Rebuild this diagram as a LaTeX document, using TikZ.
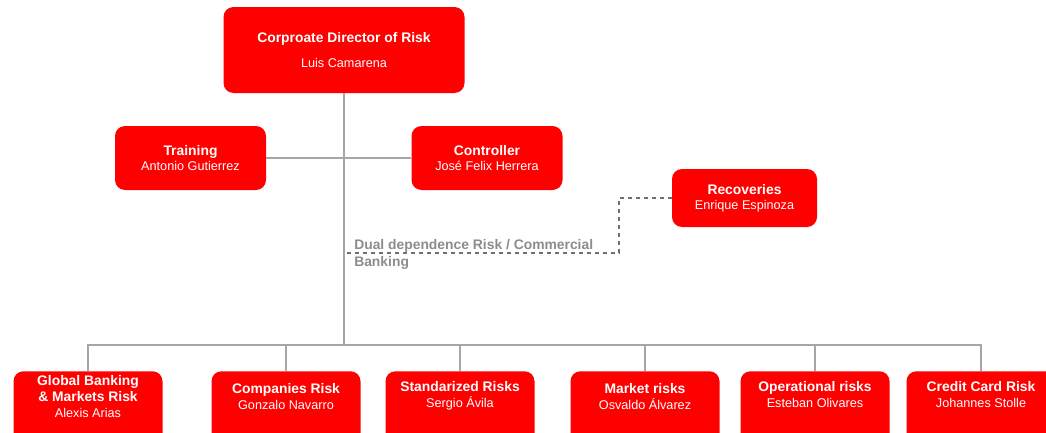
\documentclass[tikz,border=0pt]{standalone}
\usepackage{fontspec}
\setmainfont{Liberation Sans}
\definecolor{boxred}{HTML}{FF0000}
\definecolor{linegray}{HTML}{A6A6A6}
\definecolor{dashgray}{HTML}{707070}
\definecolor{labelgray}{HTML}{8C8C8C}
\newcommand{\ttl}[1]{{\fontsize{10.4}{11.3}\selectfont\bfseries #1}}
\newcommand{\nm}[1]{{\fontsize{9.5}{11.3}\selectfont #1}}
\tikzset{
  redbox/.style={fill=boxred, draw=none, rounded corners=7.5pt, text=white,
    align=center, inner sep=2pt, font=\fontsize{10.4}{11.3}\selectfont},
  bottombox/.style={redbox, anchor=north, minimum width=111.75pt, minimum height=60pt},
  boxtext/.style={text=white, align=center, inner sep=0pt},
  conn/.style={draw=linegray, line width=1.5pt},
  dualconn/.style={draw=dashgray, line width=0.8pt, dashed},
}
\begin{document}
\begin{tikzpicture}[x=0.75pt,y=-0.75pt]
\useasboundingbox (0,0) rectangle (1046,432);
\clip (0,0) rectangle (1046,432);
% nodes
\node[redbox, minimum width=180.75pt, minimum height=64.5pt] (top) at (344,50)
  {\ttl{Corproate Director of Risk}\\[7pt]\nm{Luis Camarena}};
\node[redbox, minimum width=113.25pt, minimum height=48pt] (train) at (190.5,158)
  {\ttl{Training}\\\nm{Antonio Gutierrez}};
\node[redbox, minimum width=113.25pt, minimum height=48pt] (ctrl) at (487,158)
  {\ttl{Controller}\\\nm{José Felix Herrera}};
\node[redbox, minimum width=108.75pt, minimum height=43.5pt] (rec) at (744.5,198)
  {\ttl{Recoveries}\\\nm{Enrique Espinoza}};

\node[bottombox] (gb) at (88,371) {};
\node[boxtext] (gbt) at (88,397)
  {\ttl{Global Banking}\\\ttl{\& Markets Risk}\\\nm{Alexis Arias}};
\node[bottombox] (comp) at (286,371) {};
\node[boxtext] (compt) at (286,397)
  {\ttl{Companies Risk}\\\nm{Gonzalo Navarro}};
\node[bottombox] (std) at (460,371) {};
\node[boxtext] (stdt) at (460,396)
  {\ttl{Standarized Risks}\\\nm{Sergio Ávila}};
\node[bottombox] (mkt) at (645,371) {};
\node[boxtext] (mktt) at (645,397)
  {\ttl{Market risks}\\\nm{Osvaldo Álvarez}};
\node[bottombox] (ops) at (815,371) {};
\node[boxtext] (opst) at (815,395)
  {\ttl{Operational risks}\\\nm{Esteban Olivares}};
\node[bottombox] (cc) at (981,371) {};
\node[boxtext] (cct) at (981,395)
  {\ttl{Credit Card Risk}\\\nm{Johannes Stolle}};

\node[anchor=north west, text=labelgray, align=left, inner sep=0pt,
  font=\fontsize{10.4}{12.75}\selectfont\bfseries] (dual) at (354,239)
  {Dual dependence Risk / Commercial\\Banking};

% coordinates
\coordinate (bus) at (344,345);
\coordinate (d0) at (344,253);
\coordinate (d1) at (619,253);

% connectors
\draw[conn] (top.south) -- (bus);
\draw[conn] (train.east) -- (ctrl.west);
\draw[conn] (bus) -| (gb.north);
\draw[conn] (bus) -| (comp.north);
\draw[conn] (bus) -| (std.north);
\draw[conn] (bus) -| (mkt.north);
\draw[conn] (bus) -| (ops.north);
\draw[conn] (bus) -| (cc.north);
\draw[dualconn] (rec.west) -| (d1) -- (d0);
\end{tikzpicture}
\end{document}
